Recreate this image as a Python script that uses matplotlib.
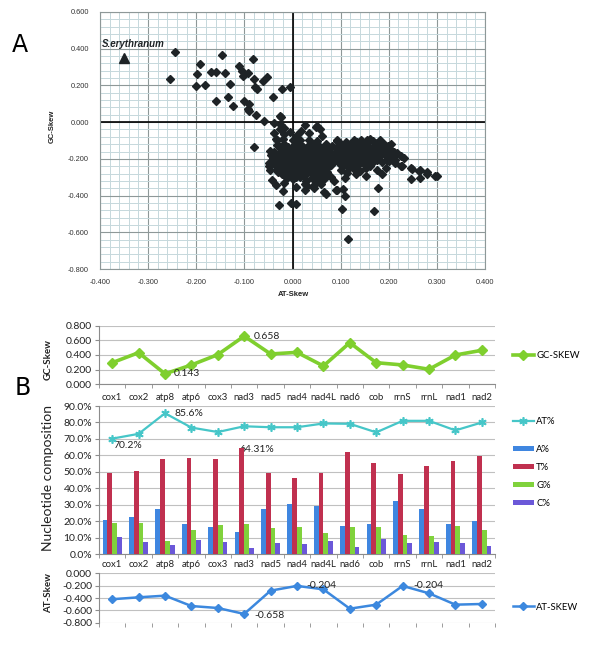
import matplotlib
matplotlib.use('Agg')
import matplotlib.pyplot as plt
from matplotlib.ticker import MultipleLocator, FixedLocator, FuncFormatter

# ---------------- Panel A data (AT-skew, GC-skew per genome) ----------------
at_skew = [
    -0.245, -0.254, -0.193, -0.198, -0.200, -0.182, -0.170, -0.158, -0.160, -0.146,
    -0.141, -0.129, -0.134, -0.124, -0.111, -0.105, -0.103, -0.093, -0.083, -0.080,
    -0.078, -0.073, -0.062, -0.054, -0.101, -0.091, -0.092, -0.091, -0.075, -0.060,
    -0.040, -0.026, -0.021, -0.006, -0.039, -0.023, -0.018, -0.024,
    -0.032, -0.025, -0.018, -0.010, -0.004, 0.003, 0.010, 0.017, 0.024, 0.031,
    0.038, 0.045, 0.052, 0.060, 0.068, 0.075, 0.083,
    -0.038, -0.030, -0.022, -0.015, -0.008, -0.001, 0.006, 0.013, 0.020, 0.027,
    0.034, 0.041, 0.048, 0.055, 0.062, 0.070, 0.078, 0.086,
    -0.040, -0.033, -0.026, -0.019, -0.012, -0.005, 0.002, 0.009, 0.016, 0.023,
    0.030, 0.037, 0.044, 0.051, 0.058, 0.065, 0.072, 0.080, 0.088,
    -0.036, -0.028, -0.021, -0.014, -0.007, 0.000, 0.007, 0.014, 0.021, 0.028,
    0.035, 0.042, 0.049, 0.056, 0.064, 0.071, 0.079,
    -0.030, -0.022, -0.013, -0.004, 0.005, 0.012, 0.020, 0.029, 0.037, 0.046,
    0.055, 0.063, 0.072,
    -0.012, 0.001, 0.015, 0.028, 0.040, 0.052, 0.066, 0.080,
    -0.045, -0.048, 0.015, 0.035, 0.000, -0.020, 0.050, 0.025, 0.044, 0.060, 0.008,
    0.092, 0.098, 0.105, 0.112, 0.120, 0.128, 0.135, 0.142, 0.148, 0.155,
    0.162, 0.168, 0.175, 0.182, 0.190, 0.198, 0.205,
    0.090, 0.098, 0.106, 0.114, 0.122, 0.130, 0.138, 0.146, 0.154, 0.162,
    0.170, 0.178, 0.186, 0.194, 0.202, 0.210, 0.218, 0.226, 0.232,
    0.094, 0.102, 0.110, 0.118, 0.126, 0.134, 0.142, 0.150, 0.158, 0.166,
    0.174, 0.182, 0.190, 0.198, 0.206, 0.214,
    0.096, 0.106, 0.116, 0.126, 0.136, 0.146, 0.156, 0.166, 0.176, 0.186,
    0.100, 0.114, 0.128, 0.140, 0.152,
    0.200, 0.214, 0.225, 0.228, 0.249, 0.247, 0.265, 0.263, 0.279, 0.279,
    0.301, 0.297, 0.247, 0.264, 0.195, 0.176, 0.186, 0.152, 0.131, 0.110, 0.086,
    0.093, 0.110, 0.065, 0.044, 0.030, 0.027, 0.177, 0.102, 0.169, 0.116,
    -0.003, 0.008, -0.019, -0.028, 0.069, 0.105, 0.091,
    -0.080, -0.047, -0.042, -0.049, -0.046, -0.033, -0.039, -0.025, -0.035, -0.018,
    -0.017, -0.035,
    0.017, 0.027, 0.058, 0.062, 0.051, 0.048, 0.093, 0.141, 0.161, 0.010, 0.035, -0.005,
    -0.028, -0.012, 0.006, 0.021, 0.036, 0.055, 0.070,
    -0.034, -0.017, -0.003, 0.011, 0.025, 0.039, 0.053, 0.067, 0.083,
    -0.024, -0.009, 0.005, 0.019, 0.033, 0.047, 0.061, 0.076,
    -0.032, -0.017, -0.002, 0.011, 0.025, 0.039, 0.053, 0.068,
    -0.008, 0.008, 0.024, 0.041, 0.058,
    0.100, 0.116, 0.132, 0.150, 0.166, 0.184, 0.200,
    0.108, 0.124, 0.140, 0.160, 0.178, 0.196, 0.118, 0.134, 0.160,
]
gc_skew = [
    0.384, 0.233, 0.315, 0.260, 0.196, 0.202, 0.271, 0.273, 0.113, 0.368,
    0.269, 0.209, 0.136, 0.087, 0.306, 0.280, 0.253, 0.265, 0.346, 0.237,
    0.193, 0.182, 0.224, 0.244, 0.117, 0.101, 0.073, 0.063, 0.037, 0.005,
    0.136, 0.033, 0.178, 0.191, -0.003, -0.013, -0.031, 0.028,
    -0.125, -0.142, -0.118, -0.135, -0.150, -0.128, -0.140, -0.122, -0.148, -0.133,
    -0.118, -0.142, -0.127, -0.150, -0.132, -0.145, -0.128,
    -0.162, -0.175, -0.158, -0.170, -0.183, -0.165, -0.178, -0.160, -0.172, -0.185,
    -0.163, -0.176, -0.158, -0.180, -0.167, -0.175, -0.160, -0.172,
    -0.198, -0.210, -0.192, -0.205, -0.218, -0.195, -0.208, -0.222, -0.200, -0.213,
    -0.196, -0.220, -0.205, -0.193, -0.215, -0.200, -0.212, -0.195, -0.208,
    -0.235, -0.248, -0.230, -0.242, -0.255, -0.232, -0.245, -0.258, -0.238, -0.250,
    -0.233, -0.260, -0.243, -0.252, -0.238, -0.248, -0.235,
    -0.270, -0.285, -0.268, -0.280, -0.272, -0.290, -0.275, -0.283, -0.268, -0.292,
    -0.278, -0.287, -0.272,
    -0.305, -0.312, -0.300, -0.318, -0.305, -0.322, -0.310, -0.300,
    -0.180, -0.222, -0.100, -0.095, -0.095, -0.090, -0.105, -0.335, -0.345, -0.338, -0.355,
    -0.104, -0.115, -0.125, -0.110, -0.118, -0.100, -0.108, -0.098, -0.116, -0.095,
    -0.094, -0.105, -0.112, -0.100, -0.120, -0.128, -0.118,
    -0.140, -0.152, -0.145, -0.160, -0.138, -0.150, -0.135, -0.148, -0.130, -0.142,
    -0.128, -0.140, -0.150, -0.138, -0.155, -0.160, -0.170, -0.182, -0.195,
    -0.180, -0.192, -0.175, -0.188, -0.172, -0.185, -0.170, -0.182, -0.168, -0.178,
    -0.165, -0.180, -0.172, -0.185, -0.195, -0.205,
    -0.222, -0.235, -0.215, -0.228, -0.212, -0.225, -0.210, -0.222, -0.205, -0.218,
    -0.262, -0.275, -0.255, -0.268, -0.250,
    -0.213, -0.222, -0.240, -0.240, -0.253, -0.251, -0.262, -0.265, -0.271, -0.282,
    -0.291, -0.293, -0.309, -0.304, -0.249, -0.258, -0.285, -0.291, -0.285, -0.304, -0.322,
    -0.367, -0.400, -0.382, -0.358, -0.349, -0.367, -0.358, -0.473, -0.485, -0.636,
    -0.440, -0.444, -0.376, -0.452, -0.394, -0.364, -0.371,
    -0.134, -0.158, -0.313, -0.240, -0.258, -0.098, -0.058, -0.040, -0.340, -0.331,
    -0.067, -0.094,
    -0.049, -0.013, -0.040, -0.073, -0.022, -0.025, -0.095, -0.109, -0.098, -0.070, -0.060, -0.055,
    -0.130, -0.148, -0.118, -0.135, -0.150, -0.138, -0.120,
    -0.188, -0.190, -0.172, -0.190, -0.162, -0.190, -0.168, -0.188, -0.182,
    -0.220, -0.228, -0.215, -0.228, -0.208, -0.228, -0.225, -0.222,
    -0.258, -0.262, -0.245, -0.268, -0.262, -0.248, -0.265, -0.260,
    -0.292, -0.298, -0.295, -0.280, -0.298,
    -0.135, -0.140, -0.125, -0.160, -0.150, -0.125, -0.140,
    -0.205, -0.200, -0.198, -0.195, -0.190, -0.205, -0.250, -0.240, -0.240,
]
ery_at = [-0.351]
ery_gc = [0.347]

# ---------------- Panel B data (per gene) ----------------
genes = ['cox1', 'cox2', 'atp8', 'atp6', 'cox3', 'nad3', 'nad5', 'nad4', 'nad4L',
         'nad6', 'cob', 'rrnS', 'rrnL', 'nad1', 'nad2']
gc_gene = [0.295, 0.432, 0.143, 0.264, 0.405, 0.658, 0.414, 0.436, 0.250,
           0.568, 0.295, 0.264, 0.205, 0.400, 0.464]
at_pct = [70.2, 73.1, 85.6, 76.9, 74.2, 77.7, 77.1, 77.1, 79.4, 79.2, 74.0, 81.0, 81.0, 75.2, 80.0]
a_pct = [20.6, 22.6, 27.6, 18.4, 16.3, 13.3, 27.6, 30.6, 29.6, 16.9, 18.4, 32.4, 27.6, 18.6, 20.0]
t_pct = [49.6, 50.8, 58.1, 58.3, 57.9, 64.31, 49.2, 46.2, 49.6, 61.9, 55.5, 48.6, 53.3, 56.8, 59.7]
g_pct = [19.0, 19.0, 8.2, 14.5, 18.0, 18.4, 16.0, 16.5, 12.9, 16.5, 16.5, 11.8, 11.2, 17.1, 14.7]
c_pct = [10.4, 7.3, 5.9, 8.4, 7.3, 3.7, 6.7, 6.3, 7.8, 4.3, 9.0, 6.9, 7.6, 7.1, 5.1]
at_gene = [-0.420, -0.389, -0.362, -0.530, -0.562, -0.658, -0.281, -0.204, -0.260,
           -0.573, -0.508, -0.204, -0.324, -0.508, -0.497]

W, H = 600, 650
fig = plt.figure(figsize=(6, 6.5), dpi=100)
fig.patch.set_facecolor('white')


def ax_px(l, t, r, b):
    return fig.add_axes([l / W, 1 - b / H, (r - l) / W, (b - t) / H])


# ================= Panel A =================
sfont = 'Liberation Sans'
ax = ax_px(100, 12, 485, 269)
ax.set_xlim(-0.4, 0.4)
ax.set_ylim(-0.8, 0.6)
ax.xaxis.set_major_locator(MultipleLocator(0.1))
ax.xaxis.set_minor_locator(MultipleLocator(0.02))
ax.yaxis.set_major_locator(MultipleLocator(0.2))
ax.yaxis.set_minor_locator(MultipleLocator(0.04))
ax.grid(which='minor', color='#c6d8dc', lw=0.7)
ax.grid(which='major', color='#8e9898', lw=0.8)
ax.set_axisbelow(True)
for s in ax.spines.values():
    s.set_color('#8e9898')
    s.set_linewidth(0.8)
ax.tick_params(which='both', length=0)
ax.tick_params(axis='x', pad=7)
ax.tick_params(axis='y', pad=8)
fmt3 = FuncFormatter(lambda v, p: f'{v:.3f}')
ax.xaxis.set_major_formatter(fmt3)
ax.yaxis.set_major_formatter(fmt3)
for lab in ax.get_xticklabels() + ax.get_yticklabels():
    lab.set_fontfamily(sfont)
    lab.set_fontsize(5.3)
    lab.set_color('#333333')
ax.axhline(0, color='black', lw=1.2, zorder=2)
ax.axvline(0, color='black', lw=1.2, zorder=2)
ax.plot(at_skew, gc_skew, linestyle='none', marker='D', ms=3.6,
        color='#1e2326', mec='#1e2326', zorder=3)
ax.plot(ery_at, ery_gc, linestyle='none', marker='^', ms=6.5,
        color='#1e2326', zorder=3)
ax.text(-0.396, 0.424, 'S.erythranum', fontfamily=sfont, fontsize=7,
        fontweight='bold', fontstyle='italic', va='center', ha='left', color='#1e2326')
fig.text(52.7 / W, 1 - 126 / H, 'GC-Skew', rotation=90, ha='center', va='center',
         fontfamily=sfont, fontsize=5.5, fontweight='bold', color='#222222')
fig.text(293 / W, 1 - 295 / H, 'AT-Skew', ha='center', va='center',
         fontfamily=sfont, fontsize=5.5, fontweight='bold', color='#222222')
fig.text(20 / W, 1 - 45 / H, 'A', ha='center', va='center', fontfamily='DejaVu Sans',
         fontsize=17, color='black')

# ================= Panel B =================
bfont = 'Lato'
plt.rcParams['font.family'] = bfont
x = list(range(len(genes)))
grid_c = '#c0c0c0'
axis_c = '#8c8c8c'
fs = 7.5
fcat = 6.9
fleg = 6.8


def style_b(a):
    a.set_xlim(-0.5, len(genes) - 0.5)
    for k in ['top', 'right', 'bottom']:
        a.spines[k].set_visible(False)
    a.spines['left'].set_color(axis_c)
    a.spines['left'].set_linewidth(0.8)
    a.yaxis.grid(True, color=grid_c, lw=0.8)
    a.set_axisbelow(True)
    a.tick_params(axis='y', length=3, color=axis_c, labelsize=fs, pad=2,
                  labelcolor='#222222', direction='out')
    for lab in a.get_yticklabels():
        lab.set_fontfamily(bfont)
    a.xaxis.set_minor_locator(FixedLocator([i - 0.5 for i in range(len(genes) + 1)]))
    a.tick_params(axis='x', which='minor', length=3, color=axis_c)
    a.tick_params(axis='x', which='major', length=0)


# GC-skew line
ag = ax_px(99, 325.7, 495, 384.3)
style_b(ag)
ag.set_ylim(0, 0.8)
ag.set_yticks([0, 0.2, 0.4, 0.6, 0.8])
ag.yaxis.set_major_formatter(fmt3)
ag.spines['bottom'].set_visible(True)
ag.spines['bottom'].set_color(axis_c)
ag.spines['bottom'].set_linewidth(0.8)
ag.set_xticks(x)
ag.set_xticklabels(genes, fontsize=fcat, fontfamily=bfont, color='#222222')
ag.tick_params(axis='x', which='major', pad=6)
ag.plot(x, gc_gene, color='#7fcf2e', lw=2.6, marker='D', ms=5.5, mec='#7fcf2e',
        label='GC-SKEW', zorder=3)
ag.annotate('0.658', (5, gc_gene[5]), xytext=(7, 0), textcoords='offset points',
            va='center', ha='left', fontsize=fs, color='#222222')
ag.annotate('0.143', (2, gc_gene[2]), xytext=(6.5, 0), textcoords='offset points',
            va='center', ha='left', fontsize=fs, color='#222222')
for s in ag.get_yticklabels():
    s.set_fontfamily(bfont)

# Nucleotide composition
ac = ax_px(99, 406, 495, 554.3)
style_b(ac)
ac.set_ylim(0, 90)
ac.set_yticks(range(0, 91, 10))
ac.yaxis.set_major_formatter(FuncFormatter(lambda v, p: f'{v:.1f}%'))
ac.spines['bottom'].set_visible(True)
ac.spines['bottom'].set_color(axis_c)
ac.spines['bottom'].set_linewidth(0.8)
ac.set_xticks(x)
ac.set_xticklabels(genes, fontsize=fcat, fontfamily=bfont, color='#222222')
ac.tick_params(axis='x', which='major', pad=4)
bw = 0.18
cols = {'A%': '#3f86e0', 'T%': '#c0304f', 'G%': '#80d23c', 'C%': '#6b58d8'}
for off, vals, lab in [(-1.5, a_pct, 'A%'), (-0.5, t_pct, 'T%'),
                       (0.5, g_pct, 'G%'), (1.5, c_pct, 'C%')]:
    ac.bar([i + off * bw for i in x], vals, width=bw, color=cols[lab], label=lab, zorder=3)
ac.plot(x, at_pct, color='#46c6c8', lw=1.6, marker=(6, 2, 0), ms=6, mew=1.2,
        label='AT%', zorder=4)
ac.annotate('85.6%', (2, at_pct[2]), xytext=(6.5, 0), textcoords='offset points',
            va='center', ha='left', fontsize=fs, color='#222222')
ac.annotate('70.2%', (0, at_pct[0]), xytext=(1, -5), textcoords='offset points',
            va='center', ha='left', fontsize=fs, color='#222222')
ac.text(5 - 0.5 * bw - bw / 2, t_pct[5] - 1.0, '64.31%', va='center', ha='left',
        fontsize=fs, color='#222222', zorder=2)
for s in ac.get_yticklabels():
    s.set_fontfamily(bfont)

# AT-skew line
aa = ax_px(99, 573.3, 495, 622.7)
style_b(aa)
aa.set_ylim(-0.8, 0)
aa.set_yticks([-0.8, -0.6, -0.4, -0.2, 0.0])
aa.yaxis.set_major_formatter(fmt3)
aa.set_xticks(x)
aa.set_xticklabels([])
aa.plot(x, at_gene, color='#3c88de', lw=1.8, marker='D', ms=4.5, mec='#3c88de',
        label='AT-SKEW', zorder=3)
aa.annotate('-0.658', (5, at_gene[5]), xytext=(7, -1), textcoords='offset points',
            va='center', ha='left', fontsize=fs, color='#222222')
aa.annotate('-0.204', (7, at_gene[7]), xytext=(7, 0), textcoords='offset points',
            va='center', ha='left', fontsize=fs, color='#222222')
aa.annotate('-0.204', (11, at_gene[11]), xytext=(8, 0), textcoords='offset points',
            va='center', ha='left', fontsize=fs, color='#222222')
for s in aa.get_yticklabels():
    s.set_fontfamily(bfont)

# Legends
leg_kw = dict(frameon=False, fontsize=fleg, borderpad=0, borderaxespad=0,
              handlelength=2.2, handletextpad=0.25, loc='center left',
              bbox_transform=fig.transFigure)
h, l = ag.get_legend_handles_labels()
fig.legend(h, l, bbox_to_anchor=(513 / W, 1 - 356 / H), **leg_kw)
h, l = ac.get_legend_handles_labels()
hd = dict(zip(l, h))
fig.legend([hd['AT%']], ['AT%'], bbox_to_anchor=(513 / W, 1 - 422 / H), **leg_kw)
fig.legend([hd['A%'], hd['T%'], hd['G%'], hd['C%']], ['A%', 'T%', 'G%', 'C%'],
           bbox_to_anchor=(513 / W, 1 - 476.5 / H), handleheight=0.45,
           labelspacing=0.95, **leg_kw)
h, l = aa.get_legend_handles_labels()
fig.legend(h, l, bbox_to_anchor=(513 / W, 1 - 607 / H), **leg_kw)

fig.text(48 / W, 1 - 360 / H, 'GC-Skew', rotation=90, ha='center', va='center',
         fontsize=7, fontweight='bold', fontfamily=bfont, color='#222222')
fig.text(48 / W, 1 - 478 / H, 'Nucleotide composition', rotation=90, ha='center',
         va='center', fontsize=10, fontfamily=bfont, color='#222222')
fig.text(49 / W, 1 - 593 / H, 'AT-Skew', rotation=90, ha='center', va='center',
         fontsize=7, fontweight='bold', fontfamily=bfont, color='#222222')
fig.text(23 / W, 1 - 388 / H, 'B', ha='center', va='center', fontfamily='DejaVu Sans',
         fontsize=17, color='black')

fig.savefig('out.png', dpi=100)
